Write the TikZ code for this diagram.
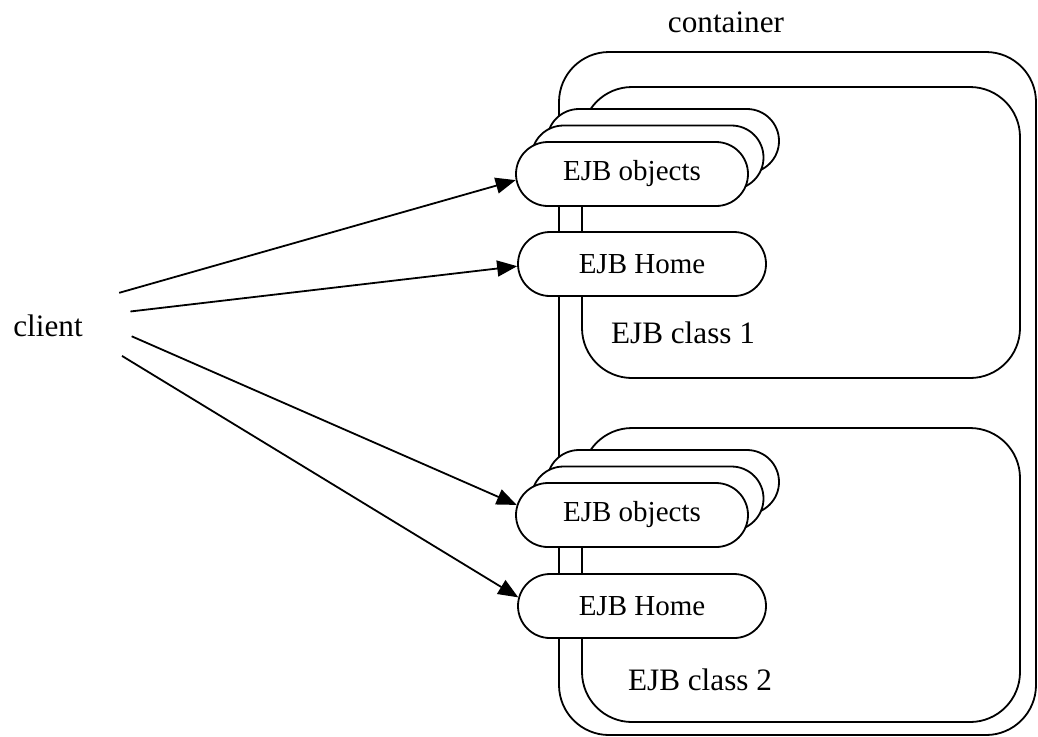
\documentclass[tikz,border=0pt]{standalone}
\usepackage{fontspec}
\setmainfont{Liberation Serif}
\usetikzlibrary{arrows.meta}
\usetikzlibrary{shapes.geometric,shapes.misc}

\begin{document}
\begin{tikzpicture}[x=0.5pt, y=-0.5pt, line width=0.9pt, >={Triangle[length=10pt,width=8pt]},
  box/.style={draw, fill=white, rectangle, rounded corners=25pt, inner sep=0pt},
  pill/.style={draw, fill=white, rounded rectangle, minimum height=32pt, inner sep=0pt, font=\fontsize{14.5}{17}\selectfont},
  lbl/.style={inner sep=0pt, font=\fontsize{15.6}{18}\selectfont}]
\useasboundingbox (0,0) rectangle (1038,736);

\node [box, minimum width=238.5pt, minimum height=341.5pt] (container) at (797.5,393.5) {};
\node [lbl] (containerlabel) at (726,22) {container};

\node [box, minimum width=219pt, minimum height=145.5pt] (class1) at (801,232.5) {};
\node [box, minimum width=219pt, minimum height=147pt] (class2) at (801,575) {};
\node [lbl] (class1label) at (683,333) {EJB class 1};
\node [lbl] (class2label) at (700,680) {EJB class 2};

% stacked objects, back to front
\node [pill, minimum width=116pt] (obj1c) at (663,141) {};
\node [pill, minimum width=116pt] (obj1b) at (647.5,157.5) {};
\node [pill, minimum width=116pt] (obj1) at (632,174) {EJB objects};
\node [pill, minimum width=124pt] (home1) at (642,264) {EJB Home};

\node [pill, minimum width=116pt] (obj2c) at (663,482) {};
\node [pill, minimum width=116pt] (obj2b) at (647.5,498.5) {};
\node [pill, minimum width=116pt] (obj2) at (632,515) {EJB objects};
\node [pill, minimum width=124pt] (home2) at (642,606) {EJB Home};

\node [lbl, ellipse, minimum width=84pt, minimum height=60pt] (client) at (48,326) {client};

\draw [->] (client.25) -- (obj1.183);
\draw [->] (client.10) -- (home1.181);
\draw [->] (client.-7) -- (obj2.175);
\draw [->] (client.-22) -- (home2.176);
\end{tikzpicture}
\end{document}
